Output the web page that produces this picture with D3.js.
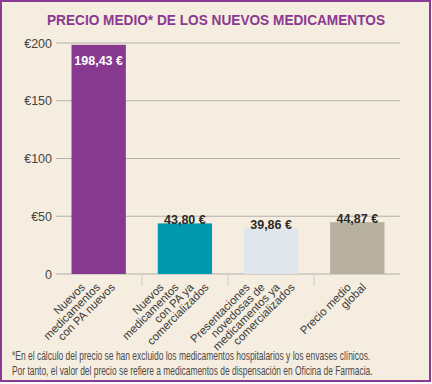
<!DOCTYPE html>
<html>
<head>
<meta charset="utf-8">
<script src="https://cdn.jsdelivr.net/npm/d3@7"></script>
<style>
  body { margin: 0; background: #fff; }
  svg { display: block; }
</style>
</head>
<body>
<svg id="chart" width="432" height="384"></svg>
<script>
"use strict";

// data
var categories = [
  ["Nuevos", "medicamentos", "con PA nuevos"],
  ["Nuevos", "medicamentos", "con PA ya", "comercializados"],
  ["Presentaciones", "novedosas de", "medicamentos ya", "comercializados"],
  ["Precio medio", "global"]
];
var values = [198.43, 43.80, 39.86, 44.87];
var valueLabels = ["198,43 €", "43,80 €", "39,86 €", "44,87 €"];
var barColors = ["#86398f", "#0099ae", "#dfe6ec", "#b8b09e"];
var yTicks = [0, 50, 100, 150, 200];
var yTickLabels = ["0", "€50", "€100", "€150", "€200"];
var title = "PRECIO MEDIO* DE LOS NUEVOS MEDICAMENTOS";
var notes = [
  "*En el cálculo del precio se han excluido los medicamentos hospitalarios y los envases clínicos.",
  "Por tanto, el valor del precio se refiere a medicamentos de dispensación en Oficina de Farmacia."
];

var width = 432,
  height = 384,
  purple = "#8a3a90";

var svg = d3.select("#chart");

// frame
svg.append("rect")
  .attr("x", 1)
  .attr("y", 1)
  .attr("width", width - 3)
  .attr("height", height - 4)
  .attr("fill", "#f5eddf")
  .attr("stroke", purple)
  .attr("stroke-width", 2);

// title
svg.append("text")
  .attr("x", 47)
  .attr("y", 25)
  .attr("textLength", 338)
  .attr("lengthAdjust", "spacingAndGlyphs")
  .attr("font-family", "Liberation Sans, Arial, sans-serif")
  .attr("font-weight", "bold")
  .attr("font-size", 15)
  .attr("fill", purple)
  .text(title);

var x = d3.scaleBand()
  .domain(d3.range(values.length))
  .range([56, 400])
  .paddingInner(0.37)
  .paddingOuter(0.18);

var y = d3.scaleLinear()
  .domain([0, 200])
  .range([274, 43]);

// grid lines
svg.append("g")
  .selectAll("line")
  .data(yTicks)
  .join("line")
  .attr("x1", 56)
  .attr("x2", 400)
  .attr("y1", function (d) { return y(d); })
  .attr("y2", function (d) { return y(d); })
  .attr("stroke", "#b3b1ad")
  .attr("stroke-width", 1.2);

// y tick labels
svg.append("g")
  .selectAll("text")
  .data(yTicks)
  .join("text")
  .attr("x", 52)
  .attr("y", function (d) { return y(d) + 4.5; })
  .attr("text-anchor", "end")
  .attr("font-family", "Liberation Sans, Arial, sans-serif")
  .attr("font-size", 12.5)
  .attr("fill", "#444")
  .text(function (d, i) { return yTickLabels[i]; });

// category separators under the axis
var step = x.step();
svg.append("g")
  .selectAll("line")
  .data(d3.range(1, values.length))
  .join("line")
  .attr("x1", function (i) { return x(i) - step * x.paddingInner() / 2; })
  .attr("x2", function (i) { return x(i) - step * x.paddingInner() / 2; })
  .attr("y1", 275)
  .attr("y2", 286)
  .attr("stroke", "#d3d4d6")
  .attr("stroke-width", 1.2);

// bars
svg.append("g")
  .selectAll("rect")
  .data(values)
  .join("rect")
  .attr("x", function (d, i) { return x(i); })
  .attr("width", x.bandwidth())
  .attr("y", function (d) { return y(d); })
  .attr("height", function (d) { return y(0) - y(d); })
  .attr("fill", function (d, i) { return barColors[i]; });

// value labels: first one inside the bar, others on top
svg.append("g")
  .selectAll("text")
  .data(values)
  .join("text")
  .attr("x", function (d, i) { return x(i) + x.bandwidth() / 2; })
  .attr("y", function (d, i) { return i === 0 ? y(d) + 20 : y(d) + 1; })
  .attr("text-anchor", "middle")
  .attr("font-family", "Liberation Sans, Arial, sans-serif")
  .attr("font-weight", "bold")
  .attr("font-size", 12.5)
  .attr("fill", function (d, i) { return i === 0 ? "#fff" : "#2a2a2a"; })
  .text(function (d, i) { return valueLabels[i]; });

// rotated category labels: each line ends on the same row, stepped to the right
var lineStep = 15;
var cat = svg.append("g")
  .selectAll("g")
  .data(categories)
  .join("g");

cat.each(function (lines, i) {
  var cx = x(i) + x.bandwidth() / 2,
    n = lines.length;
  d3.select(this).selectAll("text")
    .data(lines)
    .join("text")
    .attr("transform", function (d, j) {
      return "translate(" + (cx + 2 + lineStep * (j - (n - 1) / 2)) + ",288) rotate(-45)";
    })
    .attr("text-anchor", "end")
    .attr("font-family", "Liberation Sans, Arial, sans-serif")
    .attr("font-size", 11.4)
    .attr("fill", "#3a3a3a")
    .text(function (d) { return d; });
});

// footnote: a condensed face, so shrink the font to the width and stretch it back up
var noteWidths = [359, 361],
  noteSize = 12.5;
svg.append("g")
  .selectAll("text")
  .data(notes)
  .join("text")
  .attr("font-family", "Liberation Sans Narrow, Liberation Sans, sans-serif")
  .attr("font-size", noteSize)
  .attr("fill", "#4a4a4a")
  .text(function (d) { return d; })
  .each(function (d, i) {
    var t = d3.select(this),
      fs = noteSize * noteWidths[i] / this.getComputedTextLength();
    t.attr("font-size", fs)
      .attr("transform", "translate(12," + (360 + i * 15) + ") scale(1," + (noteSize / fs) + ")");
  });
</script>
</body>
</html>
